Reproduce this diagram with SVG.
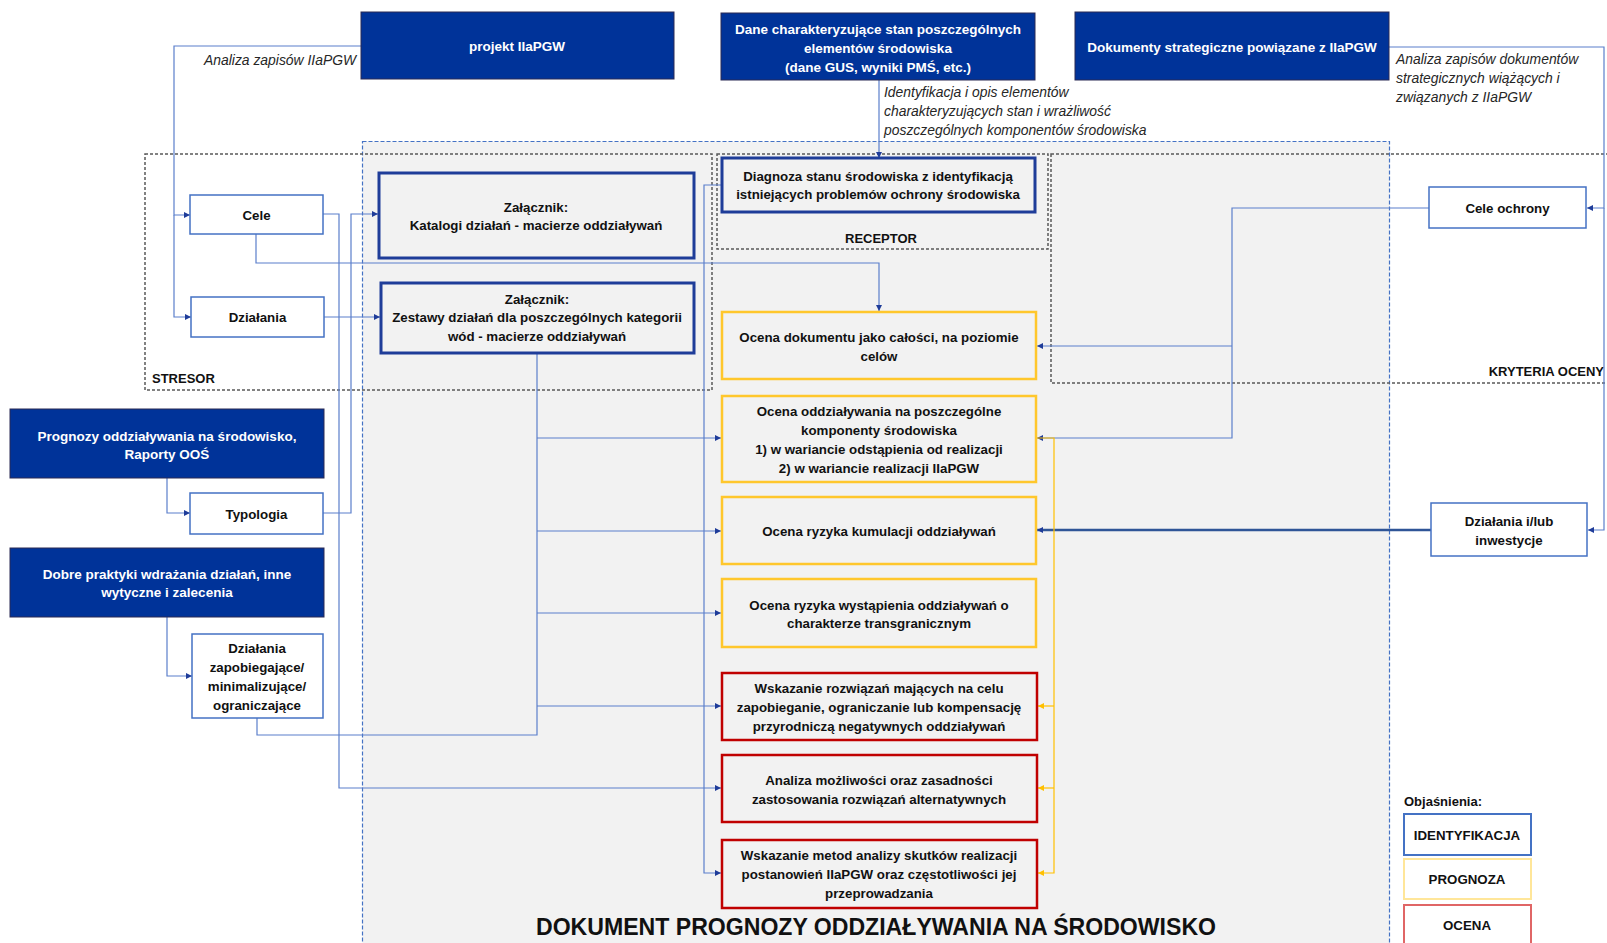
<svg xmlns="http://www.w3.org/2000/svg" width="1607" height="943" viewBox="0 0 1607 943">
<defs>
<style>
text{font-family:"Liberation Sans",Arial,sans-serif;dominant-baseline:central}
.t{font-size:13.3px;font-weight:bold;fill:#111;text-anchor:middle}
.tw{font-size:13.5px;font-weight:bold;fill:#fff;text-anchor:middle}
.it{font-size:13.9px;font-style:italic;fill:#262626}
.lab{font-size:13px;font-weight:bold;fill:#111}
.dark{fill:#003399;stroke:#2a2a55;stroke-width:1}
.thick{fill:#f2f2f2;stroke:#1f3d99;stroke-width:3}
.white{fill:#fff;stroke:#4472c4;stroke-width:1.5}
.yel{fill:#f2f2f2;stroke:#ffc72c;stroke-width:2.5}
.red{fill:#f2f2f2;stroke:#c00000;stroke-width:2.5}
.gdash{fill:none;stroke:#595959;stroke-width:1.5;stroke-dasharray:3 2}
.c{fill:none;stroke:#5b7fcb;stroke-width:1.2}
.cy{fill:none;stroke:#ffc000;stroke-width:1.2}
</style>
<marker id="ab" viewBox="0 0 6 6" refX="6" refY="3" markerWidth="6" markerHeight="6" markerUnits="userSpaceOnUse" orient="auto"><path d="M0,0 L6,3 L0,6 z" fill="#1f3c99"/></marker>
<marker id="ay" viewBox="0 0 6 6" refX="6" refY="3" markerWidth="6" markerHeight="6" markerUnits="userSpaceOnUse" orient="auto"><path d="M0,0 L6,3 L0,6 z" fill="#ffc000"/></marker>
</defs>
<rect width="1607" height="943" fill="#fff"/>

<g id="regions">
<rect x="362.5" y="141.5" width="1027" height="810" fill="#f2f2f2" stroke="#4472c4" stroke-width="1.2" stroke-dasharray="4 2"/>
<rect class="gdash" x="145" y="154" width="567" height="236"/>
<rect class="gdash" x="717" y="154" width="331" height="95"/>
<rect class="gdash" x="1051" y="154" width="570" height="229"/>
<text class="lab" x="152" y="378">STRESOR</text>
<text class="lab" x="881" y="238" text-anchor="middle">RECEPTOR</text>
<text class="lab" x="1604" y="371" text-anchor="end" font-size="12.5">KRYTERIA OCENY</text>
<text x="876" y="926" font-size="24" font-weight="bold" fill="#111" text-anchor="middle" textLength="680" lengthAdjust="spacingAndGlyphs">DOKUMENT PROGNOZY ODDZIAŁYWANIA NA ŚRODOWISKO</text>
</g>

<g id="connectors">
<path class="c" d="M361,46 H174 V215 H190" marker-end="url(#ab)"/>
<path class="c" d="M174,215 V317 H191" marker-end="url(#ab)"/>
<path class="c" d="M323,214 H339 V788 H721" marker-end="url(#ab)"/>
<path class="c" d="M256,234 V263 H879 V311" marker-end="url(#ab)"/>
<path class="c" d="M324,317 H380" marker-end="url(#ab)"/>
<path class="c" d="M323,513 H351 V214 H378" marker-end="url(#ab)"/>
<path class="c" d="M167,478 V513 H190" marker-end="url(#ab)"/>
<path class="c" d="M167,617 V676 H192" marker-end="url(#ab)"/>
<path class="c" d="M257,718 V735 H537 V353"/>
<path class="c" d="M537,438 H721" marker-end="url(#ab)"/>
<path class="c" d="M537,531 H721" marker-end="url(#ab)"/>
<path class="c" d="M537,613 H721" marker-end="url(#ab)"/>
<path class="c" d="M537,706 H721" marker-end="url(#ab)"/>
<path class="c" d="M721,185 H704 V873 H721" marker-end="url(#ab)"/>
<path class="c" d="M879,80 V158" marker-end="url(#ab)"/>
<path class="c" d="M1429,208 H1232 V438 H1037" marker-end="url(#ab)"/>
<path class="c" d="M1232,346 H1037" marker-end="url(#ab)"/>
<path class="c" d="M1389,47 H1604 V208 H1587" marker-end="url(#ab)"/>
<path class="c" d="M1604,208 V530 H1588" marker-end="url(#ab)"/>
<path d="M1431,530 H1037" fill="none" stroke="#2f5597" stroke-width="2.5" marker-end="url(#ab)"/>
<path class="cy" d="M1037,438 H1054 V873 H1038" marker-end="url(#ay)"/>
<path class="cy" d="M1054,706 H1038" marker-end="url(#ay)"/>
<path class="cy" d="M1054,788 H1038" marker-end="url(#ay)"/>
<text class="it" x="204" y="60">Analiza zapisów IIaPGW</text>
<text class="it" x="884" y="92">Identyfikacja i opis elementów</text>
<text class="it" x="884" y="111">charakteryzujących stan i wrażliwość</text>
<text class="it" x="884" y="130">poszczególnych komponentów środowiska</text>
<text class="it" x="1396" y="59">Analiza zapisów dokumentów</text>
<text class="it" x="1396" y="78">strategicznych wiążących i</text>
<text class="it" x="1396" y="97">związanych z IIaPGW</text>
</g>

<g id="n-projekt"><rect class="dark" x="361" y="12" width="313" height="67"/><text class="tw" x="517" y="46">projekt IIaPGW</text></g>
<g id="n-dane"><rect class="dark" x="721" y="13" width="314" height="67"/>
<text class="tw" x="878" y="29">Dane charakteryzujące stan poszczególnych</text>
<text class="tw" x="878" y="48">elementów środowiska</text>
<text class="tw" x="878" y="67">(dane GUS, wyniki PMŚ, etc.)</text></g>
<g id="n-dokumenty"><rect class="dark" x="1075" y="12" width="314" height="68"/><text class="tw" x="1232" y="47">Dokumenty strategiczne powiązane z IIaPGW</text></g>
<g id="n-prognozy"><rect class="dark" x="10" y="409" width="314" height="69"/>
<text class="tw" x="167" y="436">Prognozy oddziaływania na środowisko,</text>
<text class="tw" x="167" y="454">Raporty OOŚ</text></g>
<g id="n-dobre"><rect class="dark" x="10" y="548" width="314" height="69"/>
<text class="tw" x="167" y="574">Dobre praktyki wdrażania działań, inne</text>
<text class="tw" x="167" y="592">wytyczne i zalecenia</text></g>

<g id="n-cele"><rect class="white" x="190" y="195" width="133" height="39"/><text class="t" x="256.5" y="215">Cele</text></g>
<g id="n-dzialania"><rect class="white" x="191" y="297" width="133" height="40"/><text class="t" x="257.5" y="317">Działania</text></g>
<g id="n-typologia"><rect class="white" x="190" y="493" width="133" height="41"/><text class="t" x="256.5" y="514">Typologia</text></g>
<g id="n-zapobiegajace"><rect class="white" x="192" y="634" width="131" height="84"/>
<text class="t" x="257" y="648">Działania</text>
<text class="t" x="257" y="667">zapobiegające/</text>
<text class="t" x="257" y="686">minimalizujące/</text>
<text class="t" x="257" y="705">ograniczające</text></g>

<g id="n-katalogi"><rect class="thick" x="379" y="173" width="315" height="85"/>
<text class="t" x="536" y="207">Załącznik:</text>
<text class="t" x="536" y="225">Katalogi działań - macierze oddziaływań</text></g>
<g id="n-zestawy"><rect class="thick" x="381" y="283" width="313" height="70"/>
<text class="t" x="537" y="299">Załącznik:</text>
<text class="t" x="537" y="317">Zestawy działań dla poszczególnych kategorii</text>
<text class="t" x="537" y="336">wód - macierze oddziaływań</text></g>
<g id="n-diagnoza"><rect class="thick" x="722" y="158" width="313" height="54"/>
<text class="t" x="878" y="176">Diagnoza stanu środowiska z identyfikacją</text>
<text class="t" x="878" y="194">istniejących problemów ochrony środowiska</text></g>

<g id="n-ocena-dok"><rect class="yel" x="722" y="312" width="314" height="67"/>
<text class="t" x="879" y="337">Ocena dokumentu jako całości, na poziomie</text>
<text class="t" x="879" y="356">celów</text></g>
<g id="n-ocena-odd"><rect class="yel" x="722" y="396" width="314" height="86"/>
<text class="t" x="879" y="411">Ocena oddziaływania na poszczególne</text>
<text class="t" x="879" y="430">komponenty środowiska</text>
<text class="t" x="879" y="449">1) w wariancie odstąpienia od realizacji</text>
<text class="t" x="879" y="468">2) w wariancie realizacji IIaPGW</text></g>
<g id="n-kumulacja"><rect class="yel" x="722" y="497" width="314" height="67"/>
<text class="t" x="879" y="531">Ocena ryzyka kumulacji oddziaływań</text></g>
<g id="n-transgraniczne"><rect class="yel" x="722" y="579" width="314" height="68"/>
<text class="t" x="879" y="605">Ocena ryzyka wystąpienia oddziaływań o</text>
<text class="t" x="879" y="623">charakterze transgranicznym</text></g>

<g id="n-wskazanie-rozw"><rect class="red" x="722" y="673" width="315" height="67"/>
<text class="t" x="879" y="688">Wskazanie rozwiązań mających na celu</text>
<text class="t" x="879" y="707">zapobieganie, ograniczanie lub kompensację</text>
<text class="t" x="879" y="726">przyrodniczą negatywnych oddziaływań</text></g>
<g id="n-analiza"><rect class="red" x="722" y="755" width="315" height="67"/>
<text class="t" x="879" y="780">Analiza możliwości oraz zasadności</text>
<text class="t" x="879" y="799">zastosowania rozwiązań alternatywnych</text></g>
<g id="n-wskazanie-metod"><rect class="red" x="722" y="840" width="315" height="68"/>
<text class="t" x="879" y="855">Wskazanie metod analizy skutków realizacji</text>
<text class="t" x="879" y="874">postanowień IIaPGW oraz częstotliwości jej</text>
<text class="t" x="879" y="893">przeprowadzania</text></g>

<g id="n-cele-ochrony"><rect class="white" x="1429" y="187" width="157" height="41"/><text class="t" x="1507.5" y="208">Cele ochrony</text></g>
<g id="n-dzialania-inw"><rect class="white" x="1431" y="503" width="156" height="53"/>
<text class="t" x="1509" y="521">Działania i/lub</text>
<text class="t" x="1509" y="540">inwestycje</text></g>

<g id="legend">
<text class="lab" x="1404" y="801">Objaśnienia:</text>
<rect x="1404" y="814" width="127" height="41" fill="#fff" stroke="#4472c4" stroke-width="2"/>
<text class="t" x="1467" y="835" font-size="12.5">IDENTYFIKACJA</text>
<rect x="1404" y="859" width="127" height="40" fill="#fff" stroke="#ffe699" stroke-width="2"/>
<text class="t" x="1467" y="879" font-size="12.5">PROGNOZA</text>
<rect x="1404" y="905" width="127" height="45" fill="#fff" stroke="#e06666" stroke-width="2"/>
<text class="t" x="1467" y="925" font-size="12.5">OCENA</text>
</g>
</svg>
